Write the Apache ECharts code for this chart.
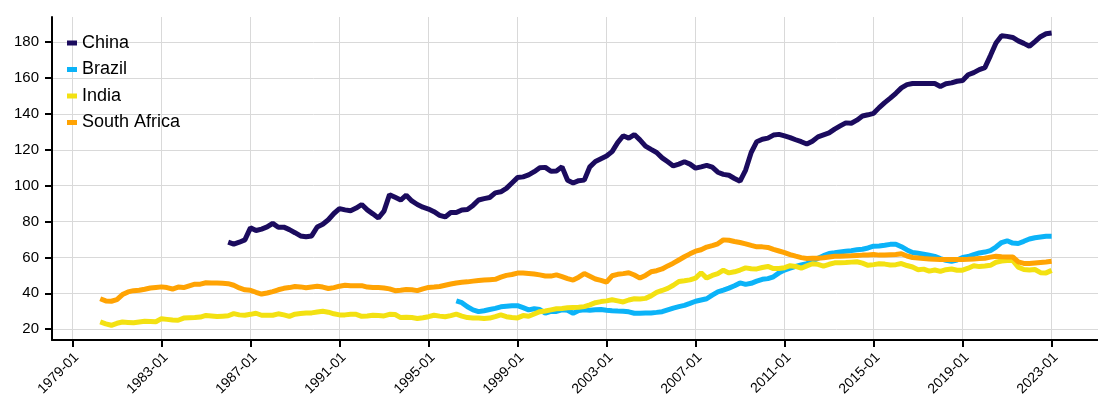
<!DOCTYPE html>
<html><head><meta charset="utf-8">
<script src="https://cdn.jsdelivr.net/npm/echarts@6/dist/echarts.min.js"></script>
<style>html,body{margin:0;padding:0;background:#fff}#c{width:1098px;height:405px}</style>
</head><body><div id="c"></div><script>
// ---- data ----
const axisStart = '1978-02';
const axisEnd = '2025-02';
const xTickLabels = ['1979-01','1983-01','1987-01','1991-01','1995-01','1999-01','2003-01','2007-01','2011-01','2015-01','2019-01','2023-01'];
const yMin = 14, yMax = 194;
const yTickValues = [20,40,60,80,100,120,140,160,180];
const seriesNames = ['China','Brazil','India','South Africa'];

const chinaStart = '1986-01';
const china = [68.5,67.4,68.5,69.8, 76.5,75.0,75.8,77.0, 79.0,76.8,76.9,75.5, 73.8,72.0,71.5,72.0,
 77.0,78.5,81.0,84.5, 87.2,86.5,86.0,87.5, 89.5,86.5,84.3,82.0, 85.8,95.0,93.5,92.0,
 94.7,91.5,89.5,88.0, 87.0,85.5,83.5,82.6, 85.0,85.0,86.5,86.7, 89.0,92.0,92.8,93.4,
 96.0,96.6,98.5,101.5, 104.5,104.9,106.0,107.8, 110.0,110.2,108.0,108.2, 110.5,103.0,101.5,102.8,
 103.1,110.5,113.5,115.0, 116.5,119.0,124.0,127.8, 126.5,128.5,125.5,122.0, 120.2,118.5,115.5,113.3,
 111.0,112.0,113.3,112.0, 109.8,110.5,111.3,110.3, 107.5,106.3,105.8,104.0, 102.5,108.7,118.5,124.5,
 125.9,126.5,128.2,128.6, 127.7,126.8,125.6,124.5, 123.2,124.8,127.2,128.3, 129.4,131.5,133.3,135.0,
 134.8,136.5,138.8,139.5, 140.3,143.5,146.3,148.8, 151.5,154.5,156.3,156.9, 156.9,156.9,157.0,156.9,
 155.3,156.8,157.3,158.2, 158.6,161.8,163.0,164.7, 165.8,172.5,179.5,183.5, 183.2,182.6,180.7,179.3,
 177.7,180.3,183.0,184.7, 185.1];

const brazilStart = '1996-04';
const brazil = [35.8,34.8,32.5, 30.8,29.8,30.3,31.0, 31.6,32.5,32.8,33.1, 33.1,32.0,30.8,31.4,
 31.0,28.9,30.0,29.9, 30.8,30.6,28.9,30.4, 30.8,30.6,30.8,31.0, 30.6,30.3,30.1,30.0,
 29.7,28.9,28.9,29.0, 29.1,29.4,29.8,30.8, 31.8,32.6,33.3,34.4, 35.6,36.3,37.0,39.0,
 40.8,41.8,42.9,44.2, 45.8,45.0,45.6,46.8, 47.8,48.2,49.2,51.4, 53.0,54.0,55.0,55.8,
 56.5,58.0,59.6,61.0, 62.2,62.6,63.1,63.5, 63.8,64.3,64.6,65.3, 66.3,66.4,66.8,67.3,
 67.4,66.0,64.2,62.8, 62.3,61.8,61.2,60.6, 59.4,58.4,57.9,58.6, 60.0,60.5,61.6,62.5,
 63.0,63.8,65.8,68.3, 69.3,68.0,67.8,69.0, 70.3,71.0,71.4,71.8, 71.8];

const indiaStart = '1980-04';
const india = [24.1,23.0,22.2, 23.3,24.0,23.8,23.6, 24.0,24.4,24.3,24.2, 25.9,25.5,25.1,25.0,
 26.2,26.4,26.5,26.8, 27.7,27.4,27.1,27.3, 27.5,28.7,28.0,27.8, 28.3,28.9,27.8,27.8,
 27.8,28.6,28.0,27.2, 28.4,28.8,29.0,29.1, 29.6,30.0,29.5,28.6, 28.0,28.0,28.4,28.3,
 27.2,27.4,27.8,27.6, 27.4,28.3,28.2,26.5, 26.7,26.5,26.0,26.4, 27.0,27.8,27.3,27.0,
 27.6,28.4,27.3,26.5, 26.3,26.3,26.0,26.2, 27.0,28.0,27.0,26.5, 26.3,27.6,27.2,28.5,
 29.8,30.2,30.8,31.4, 31.6,32.0,32.1,32.2, 32.6,33.6,34.8,35.4, 35.8,36.4,35.8,35.2,
 36.3,37.0,36.8,37.2, 38.6,40.5,41.6,42.8, 44.5,46.6,47.0,47.5, 48.5,51.5,48.5,50.0,
 51.0,52.9,51.4,52.0, 53.0,54.2,53.7,53.6, 54.4,55.0,53.8,53.8, 54.3,55.4,55.0,54.0,
 55.3,56.5,56.2,55.2, 56.2,57.0,57.1,57.2, 57.4,57.6,56.8,55.6, 56.0,56.5,56.3,55.8,
 56.0,56.6,55.5,54.7, 53.2,53.5,52.4,53.0, 52.2,53.2,53.6,52.9, 52.9,54.0,55.4,54.9,
 55.2,55.6,57.3,58.0, 58.3,58.4,54.6,53.3, 53.0,53.3,51.5,51.4, 52.8];

const southAfricaStart = '1980-04';
const southAfrica = [37.0,35.8,35.6, 36.5,39.3,40.8,41.5, 41.7,42.3,43.0,43.3, 43.6,43.2,42.4,43.5,
 43.2,44.2,45.1,45.1, 45.9,45.8,45.8,45.6, 45.4,44.5,43.0,42.0, 41.7,40.6,39.6,40.2,
 41.0,42.0,42.8,43.2, 43.8,43.6,43.1,43.5, 43.9,43.5,42.7,43.2, 44.0,44.5,44.2,44.2,
 44.3,43.5,43.2,43.2, 43.0,42.5,41.5,41.7, 42.1,42.0,41.5,42.5, 43.3,43.5,43.8,44.5,
 45.2,45.8,46.2,46.4, 46.8,47.2,47.4,47.6, 47.8,49.0,50.0,50.5, 51.3,51.3,51.1,50.8,
 50.3,49.7,49.6,50.3, 49.3,48.2,47.4,49.0, 51.0,49.5,48.0,47.2, 46.2,49.8,50.6,51.0,
 51.5,50.2,48.5,50.0, 52.0,52.6,53.6,55.3, 56.8,58.6,60.4,62.0, 63.5,64.3,65.8,66.6,
 67.6,69.8,69.6,68.9, 68.3,67.6,66.7,65.9, 65.9,65.6,64.5,63.6, 62.7,61.6,60.7,59.9,
 59.4,59.5,59.6,59.8, 60.3,60.7,60.7,60.8, 60.9,61.1,61.3,61.4, 61.6,61.3,61.4,61.5,
 61.6,62.1,60.8,60.0, 59.7,59.4,59.2,59.0, 58.8,58.8,58.8,58.8, 58.9,59.0,59.2,59.4,
 59.6,60.2,60.7,60.4, 60.3,60.3,57.5,56.7, 56.6,56.9,57.2,57.5, 57.9];

// ---- helpers ----
function ym(y, m) { return y + '-' + (m < 10 ? '0' + m : '' + m); }
function monthRange(a, b) {
  let y = +a.slice(0, 4), m = +a.slice(5, 7);
  const out = [];
  while (true) {
    const s = ym(y, m); out.push(s);
    if (s === b) break;
    m++; if (m > 12) { m = 1; y++; }
  }
  return out;
}
function quarterly(start, values) {
  let y = +start.slice(0, 4), m = +start.slice(5, 7);
  return values.map(v => {
    const p = [ym(y, m), v];
    m += 3; if (m > 12) { m -= 12; y++; }
    return p;
  });
}
const categories = monthRange(axisStart, axisEnd);
const isTick = (i, v) => xTickLabels.indexOf(v) >= 0;

const colors = ['#1b0b5e', '#0bb3f8', '#f3e112', '#ffa303'];
const datasets = [quarterly(chinaStart, china), quarterly(brazilStart, brazil), quarterly(indiaStart, india), quarterly(southAfricaStart, southAfrica)];
const font = "'Liberation Sans', Arial, sans-serif";

const chart = echarts.init(document.getElementById('c'));
chart.setOption({
  animation: false,
  backgroundColor: '#fff',
  color: colors,
  textStyle: { fontFamily: font },
  grid: { left: 52, right: 0, top: 17, bottom: 65, containLabel: false },
  legend: {
    orient: 'vertical', left: 62, top: 28,
    icon: 'rect', itemWidth: 10, itemHeight: 5, itemGap: 6.5,
    textStyle: { fontSize: 18, lineHeight: 20, color: '#000', fontFamily: font },
    data: seriesNames
  },
  xAxis: {
    type: 'category', data: categories, boundaryGap: false,
    axisLine: { lineStyle: { color: '#000', width: 2 } },
    axisTick: { interval: isTick, length: 7, lineStyle: { color: '#000', width: 2 } },
    axisLabel: { interval: isTick, rotate: 45, fontSize: 14, color: '#000', margin: 11,
      verticalAlign: 'top', lineHeight: 12, fontFamily: font },
    splitLine: { show: true, interval: isTick, lineStyle: { color: '#d9d9d9', width: 1 } }
  },
  yAxis: {
    type: 'value', min: yMin, max: yMax,
    axisLine: { show: true, lineStyle: { color: '#000', width: 2 } },
    axisTick: { show: true, inside: false, customValues: yTickValues, length: 7, lineStyle: { color: '#000', width: 2 } },
    axisLabel: { customValues: yTickValues, fontSize: 15, color: '#000', margin: 13, fontFamily: font },
    splitLine: { show: true, lineStyle: { color: '#d9d9d9', width: 1 } }
  },
  series: seriesNames.map((n, i) => ({
    name: n, type: 'line', data: datasets[i], showSymbol: false, symbol: 'none',
    lineStyle: { width: 5, color: colors[i] }, itemStyle: { color: colors[i] }
  }))
});
</script></body></html>
